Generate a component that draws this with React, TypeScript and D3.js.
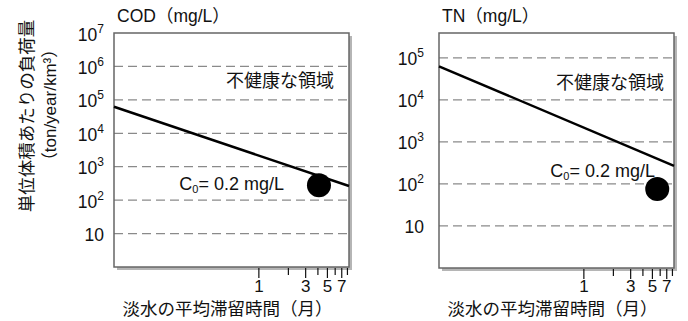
import React, { useEffect, useRef } from "react";
import * as d3 from "d3";

const WIDTH = 688;
const HEIGHT = 321;
const FONT = "'Liberation Sans', Arial, 'Noto Sans CJK JP', sans-serif";

// x axis: mean freshwater residence time (months), shared by both panels
const xDomain = [1 / 30, 8.3];
const xTicks = [1, 2, 3, 4, 5, 6, 7, 8];
const xTickLabels = [1, 3, 5, 7];

// COD panel
const codYDomain = [1, 1e7];
const codYTicks = [10, 1e2, 1e3, 1e4, 1e5, 1e6, 1e7];
const codLine = [
  { t: 1 / 30, v: 6.2e4 },
  { t: 8.3, v: 265 },
];
const codPoint = { t: 4.1, v: 280 };

// TN panel
const tnYDomain = [1, 3.9e5];
const tnYTicks = [10, 1e2, 1e3, 1e4, 1e5];
const tnLine = [
  { t: 1 / 30, v: 6.3e4 },
  { t: 8.3, v: 270 },
];
const tnPoint = { t: 5.6, v: 76 };

const titles = ["COD（mg/L）", "TN（mg/L）"];
const c0Label = "= 0.2 mg/L";
const regionLabel = "不健康な領域";
const xTitle = "淡水の平均滞留時間（月）";
const yTitle1 = "単位体積あたりの負荷量";
const yTitle2 = "（ton/year/km³）";

const panels = [
  {
    left: 114, top: 33, bottom: 267, right: 349,
    yDomain: codYDomain, yTicks: codYTicks, line: codLine, point: codPoint,
    title: titles[0], tickEnd: 104,
    c0: { x: 284, y: 190 }, region: { x: 334, y: 87 },
  },
  {
    left: 439, top: 33, bottom: 268, right: 674,
    yDomain: tnYDomain, yTicks: tnYTicks, line: tnLine, point: tnPoint,
    title: titles[1], tickEnd: 424,
    c0: { x: 655, y: 177 }, region: { x: 664, y: 89 },
  },
];

function drawPanel(svg: any, p: any) {
  const x = d3.scaleLog().domain(xDomain).range([p.left, p.right]);
  const y = d3.scaleLog().domain(p.yDomain).range([p.bottom, p.top]);
  const g = svg.append("g");

  // drop shadow of the frame
  g.append("rect")
    .attr("x", p.left + 3)
    .attr("y", p.top + 3)
    .attr("width", p.right - p.left)
    .attr("height", p.bottom - p.top)
    .attr("fill", "#b5b5b5");
  g.append("rect")
    .attr("x", p.left)
    .attr("y", p.top)
    .attr("width", p.right - p.left)
    .attr("height", p.bottom - p.top)
    .attr("fill", "#fff");

  // dashed grid lines
  g.selectAll(".grid")
    .data(p.yTicks.filter((d: number) => y(d) > p.top + 2))
    .enter().append("line")
    .attr("x1", p.left)
    .attr("x2", p.right)
    .attr("y1", (d: number) => y(d))
    .attr("y2", (d: number) => y(d))
    .attr("stroke", "#8a8a8a")
    .attr("stroke-width", 1.2)
    .attr("stroke-dasharray", "9,5");

  g.append("rect")
    .attr("x", p.left)
    .attr("y", p.top)
    .attr("width", p.right - p.left)
    .attr("height", p.bottom - p.top)
    .attr("fill", "none")
    .attr("stroke", "#666")
    .attr("stroke-width", 1.5);

  // y tick labels: 10, 10^2, ...
  const yl = g.selectAll(".ylab")
    .data(p.yTicks)
    .enter().append("text")
    .attr("x", p.tickEnd)
    .attr("y", (d: number) => y(d) + 7.5)
    .attr("text-anchor", "end")
    .attr("font-size", 17.5)
    .attr("fill", "#111");
  yl.append("tspan").text("10");
  yl.filter((d: number) => d > 10)
    .append("tspan")
    .attr("dy", -8)
    .attr("font-size", 12)
    .text((d: number) => String(Math.round(Math.log10(d))));

  // x axis ticks below the frame
  g.selectAll(".xtick")
    .data(xTicks)
    .enter().append("line")
    .attr("x1", (d: number) => x(d))
    .attr("x2", (d: number) => x(d))
    .attr("y1", p.bottom + 1)
    .attr("y2", (d: number) => p.bottom + (xTickLabels.includes(d) ? 11 : 8))
    .attr("stroke", "#111")
    .attr("stroke-width", 1.2);
  g.selectAll(".xlab")
    .data(xTickLabels)
    .enter().append("text")
    .attr("x", (d: number) => x(d))
    .attr("y", 292)
    .attr("text-anchor", "middle")
    .attr("font-size", 17)
    .attr("fill", "#111")
    .text((d: number) => d);

  // data line and point
  const line = d3.line<any>().x((d) => x(d.t)).y((d) => y(d.v));
  g.append("path")
    .attr("d", line(p.line))
    .attr("fill", "none")
    .attr("stroke", "#000")
    .attr("stroke-width", 2.5);
  g.append("circle")
    .attr("cx", x(p.point.t))
    .attr("cy", y(p.point.v))
    .attr("r", 12)
    .attr("fill", "#000");

  // annotations
  const c0 = g.append("text")
    .attr("x", p.c0.x)
    .attr("y", p.c0.y)
    .attr("text-anchor", "end")
    .attr("font-size", 18)
    .attr("fill", "#111");
  c0.append("tspan").text("C");
  c0.append("tspan").attr("font-size", 11).attr("dy", 3).text("0");
  c0.append("tspan").attr("dy", -3).text(c0Label);

  g.append("text")
    .attr("x", p.region.x)
    .attr("y", p.region.y)
    .attr("text-anchor", "end")
    .attr("font-size", 18)
    .attr("fill", "#111")
    .text(regionLabel);

  g.append("text")
    .attr("x", p.left + 3)
    .attr("y", 22)
    .attr("font-size", 17.5)
    .attr("fill", "#111")
    .text(p.title);

  g.append("text")
    .attr("x", (p.left + p.right) / 2 - 4)
    .attr("y", 315)
    .attr("text-anchor", "middle")
    .attr("font-size", 17.5)
    .attr("fill", "#111")
    .text(xTitle);
}

export default function App() {
  const ref = useRef<SVGSVGElement>(null);

  useEffect(() => {
    const svg = d3.select(ref.current);
    svg.selectAll("*").remove();
    svg.attr("font-family", FONT);

    panels.forEach((p) => drawPanel(svg, p));

    svg.append("text")
      .attr("transform", "translate(33,116) rotate(-90)")
      .attr("text-anchor", "middle")
      .attr("font-size", 17.5)
      .attr("fill", "#111")
      .text(yTitle1);
    svg.append("text")
      .attr("transform", "translate(56,105) rotate(-90)")
      .attr("text-anchor", "middle")
      .attr("font-size", 17)
      .attr("fill", "#111")
      .text(yTitle2);
  }, []);

  return (
    <svg
      ref={ref}
      width={WIDTH}
      height={HEIGHT}
      style={{ position: "absolute", left: 0, top: 0, background: "#fff" }}
    />
  );
}
